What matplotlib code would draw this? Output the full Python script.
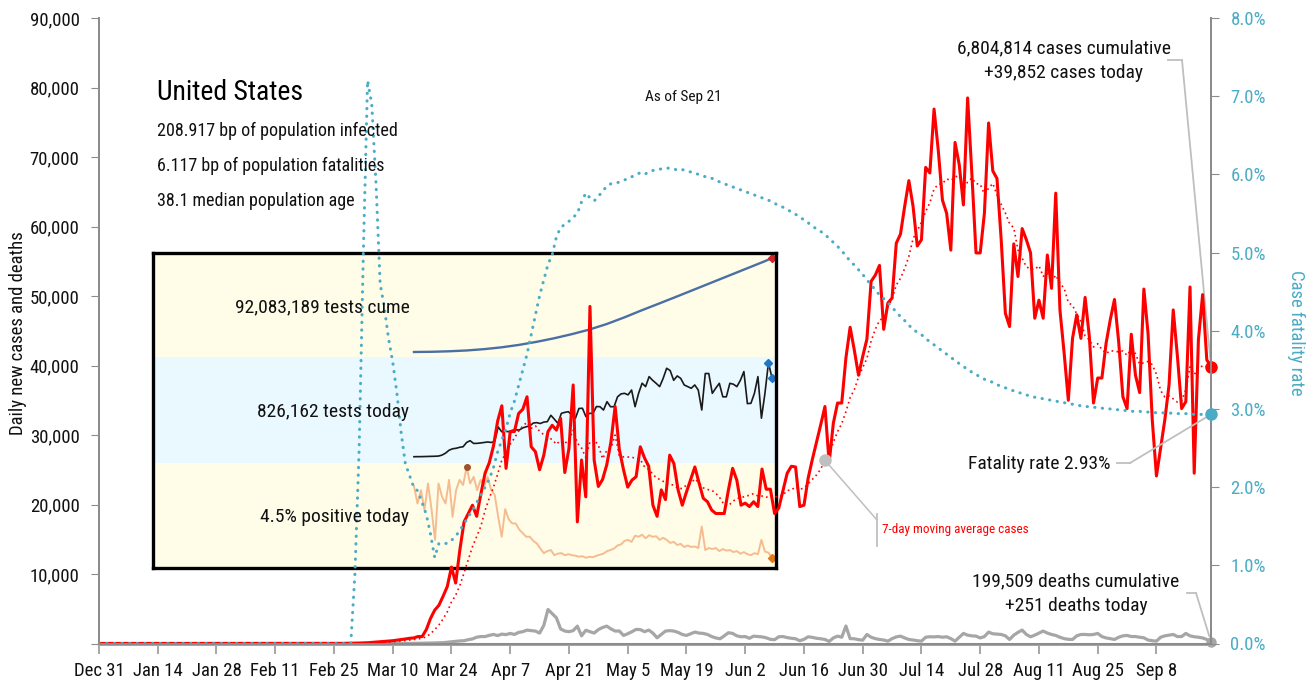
"""
US daily cases / deaths / case fatality rate, with a testing inset box.
Saves out.png (1313 x 681).
"""
import pandas as pd
import matplotlib
matplotlib.use('Agg')
import matplotlib.pyplot as plt
from matplotlib import font_manager as fm
from matplotlib.lines import Line2D
from matplotlib.ticker import FuncFormatter


def pick_font():
    """Prefer a narrow / condensed face, the reference uses one."""
    names = {f.name for f in fm.fontManager.ttflist}
    for p in ['Liberation Sans Narrow', 'Roboto Condensed', 'Noto Sans Condensed',
              'Open Sans Condensed', 'DejaVu Sans Condensed', 'Arial Narrow']:
        if p in names:
            return p, 'normal', True
    for f in fm.fontManager.ttflist:
        if f.stretch in ('condensed', 'semi-condensed', 'extra-condensed') \
                and f.style == 'normal' and f.weight in (400, 'normal', 'regular'):
            return f.name, f.stretch, True
    return 'Roboto', 'normal', False


FONT, STRETCH, NARROW = pick_font()
plt.rcParams['font.family'] = [FONT, 'DejaVu Sans']
plt.rcParams['font.stretch'] = STRETCH
K = 1.0 if NARROW else 0.86      # shrink text when no narrow face exists

# ---- Data --------------------------------------------------------------
START = '2019-12-31'

# daily new cases, Dec 31 .. Sep 21
cases = [
    0, 0, 0, 0, 0, 0, 0, 0, 0, 0,
    0, 0, 0, 0, 0, 0, 0, 0, 0, 0,
    0, 0, 0, 0, 0, 0, 0, 0, 0, 0,
    0, 0, 0, 0, 0, 0, 0, 0, 0, 0,
    0, 0, 0, 0, 0, 0, 0, 0, 0, 0,
    0, 0, 0, 2, 3, 5, 4, 8, 10, 20,
    30, 40, 60, 80, 110, 160, 200, 250, 300, 350,
    400, 480, 550, 650, 750, 800, 1000, 1000, 2000, 3600,
    4800, 5500, 6800, 8200, 11000, 8700, 13500, 17500, 18700, 19900,
    18300, 21500, 24500, 26000, 28400, 32000, 34200, 25200, 30500, 30500,
    33100, 33700, 35500, 28300, 27600, 25000, 27100, 30500, 31400, 30700,
    32400, 24600, 28100, 37200, 17500, 26400, 21100, 48500, 26400, 22600,
    23600, 25700, 29000, 34100, 27900, 25000, 22500, 23500, 24000, 28300,
    26700, 25500, 19900, 18300, 22100, 20700, 27100, 25900, 22100, 19900,
    21800, 23600, 25400, 23100, 20900, 20400, 19200, 18700, 18700, 18700,
    22100, 25200, 23500, 19900, 20200, 19700, 20400, 19700, 25100, 22200,
    22200, 18700, 19500, 22000, 24500, 25500, 25400, 19700, 19900, 23800,
    26500, 29000, 31500, 34100, 26000, 31700, 34600, 34600, 41100, 45500,
    42200, 38600, 41300, 43800, 52100, 53000, 54400, 45200, 49000, 49700,
    57600, 58900, 62900, 66600, 62900, 57200, 58100, 68500, 67700, 76900,
    71000, 63800, 61900, 56600, 72100, 68900, 63100, 78500, 67700, 56200,
    56200, 61900, 74900, 68000, 66900, 58100, 47500, 45600, 57500, 52800,
    59700, 58100, 56200, 46800, 49400, 46800, 55900, 51100, 64800, 48000,
    41800, 35000, 43900, 47300, 43900, 49800, 44200, 34600, 38200, 38200,
    43200, 46600, 49500, 43400, 35500, 33800, 44500, 38600, 36100, 51000,
    44600, 32200, 24100, 28100, 32200, 37200, 48000, 41300, 33800, 34800,
    51300, 24500, 43700, 50200, 40800, 39852,
]

deaths = [
    0, 0, 0, 0, 0, 0, 0, 0, 0, 0,
    0, 0, 0, 0, 0, 0, 0, 0, 0, 0,
    0, 0, 0, 0, 0, 0, 0, 0, 0, 0,
    0, 0, 0, 0, 0, 0, 0, 0, 0, 0,
    0, 0, 0, 0, 0, 0, 0, 0, 0, 0,
    0, 0, 0, 0, 0, 0, 0, 0, 0, 0,
    1, 1, 2, 5, 3, 4, 3, 4, 6, 8,
    5, 7, 10, 12, 10, 20, 25, 30, 45, 60,
    80, 110, 120, 180, 240, 300, 370, 400, 550, 660,
    910, 1000, 1000, 1170, 1300, 1140, 1350, 1280, 1450, 1300,
    1600, 1700, 1930, 1850, 1790, 1500, 2600, 4900, 4300, 3700,
    2100, 1790, 1700, 1850, 2500, 1100, 1900, 1700, 1500, 2000,
    2300, 2500, 2100, 1790, 1800, 1160, 1400, 1700, 2030, 2000,
    1700, 1930, 1500, 820, 1300, 1790, 1850, 1790, 1600, 1300,
    1160, 1400, 1640, 1500, 1450, 1300, 1000, 800, 680, 1100,
    1550, 1450, 1100, 970, 1000, 750, 1060, 1000, 950, 820,
    600, 550, 970, 1000, 850, 750, 680, 400, 600, 970,
    880, 750, 680, 580, 300, 800, 1060, 900, 2510, 700,
    680, 550, 480, 1300, 900, 700, 580, 500, 340, 700,
    950, 1060, 800, 580, 500, 400, 340, 900, 970, 950,
    1000, 900, 970, 700, 340, 900, 1450, 1200, 1100, 1060,
    800, 1000, 1640, 1400, 1350, 1300, 1100, 580, 1200, 1600,
    1930, 1300, 970, 1200, 1500, 1790, 1500, 1300, 1160, 900,
    700, 600, 580, 1100, 1300, 1300, 1250, 1300, 1450, 1000,
    800, 700, 580, 900, 1100, 1160, 1000, 1000, 900, 820,
    500, 400, 340, 900, 1100, 1200, 1300, 1000, 1000, 1450,
    1100, 970, 900, 800, 580, 251,
]

# case fatality rate (%), right axis
cfr_pct = [
    0, 0, 0, 0, 0, 0, 0, 0, 0, 0,
    0, 0, 0, 0, 0, 0, 0, 0, 0, 0,
    0, 0, 0, 0, 0, 0, 0, 0, 0, 0,
    0, 0, 0, 0, 0, 0, 0, 0, 0, 0,
    0, 0, 0, 0, 0, 0, 0, 0, 0, 0,
    0, 0, 0, 0, 0, 0, 0, 0, 0, 0,
    0.0, 0.9, 2.5, 5.0, 7.2, 6.9, 5.9, 4.6, 4.3, 3.9,
    3.6, 3.2, 2.7, 2.3, 2.15, 2.0, 1.95, 1.8, 1.65, 1.4,
    1.1, 1.28, 1.28, 1.28, 1.32, 1.37, 1.45, 1.53, 1.62, 1.7,
    1.8, 1.9, 2.0, 2.1, 2.25, 2.45, 2.6, 2.75, 2.95, 3.1,
    3.3, 3.5, 3.7, 3.95, 4.2, 4.45, 4.65, 4.85, 4.97, 5.2,
    5.32, 5.36, 5.4, 5.45, 5.5, 5.65, 5.76, 5.7, 5.66, 5.72,
    5.78, 5.85, 5.88, 5.89, 5.9, 5.92, 5.95, 5.97, 6.0, 6.02,
    6.0, 6.03, 6.05, 6.06, 6.07, 6.08, 6.08, 6.07, 6.05, 6.06,
    6.05, 6.03, 6.01, 6.0, 5.98, 5.96, 5.95, 5.93, 5.9, 5.88,
    5.86, 5.84, 5.82, 5.8, 5.78, 5.76, 5.74, 5.72, 5.7, 5.68,
    5.66, 5.63, 5.6, 5.58, 5.55, 5.52, 5.49, 5.45, 5.42, 5.38,
    5.34, 5.3, 5.27, 5.23, 5.18, 5.13, 5.08, 5.02, 4.96, 4.89,
    4.84, 4.78, 4.72, 4.65, 4.59, 4.52, 4.46, 4.41, 4.36, 4.3,
    4.24, 4.18, 4.13, 4.07, 4.02, 3.98, 3.95, 3.9, 3.86, 3.82,
    3.78, 3.74, 3.7, 3.66, 3.62, 3.58, 3.54, 3.51, 3.47, 3.44,
    3.41, 3.38, 3.36, 3.34, 3.31, 3.29, 3.27, 3.25, 3.23, 3.21,
    3.2, 3.18, 3.16, 3.15, 3.14, 3.13, 3.12, 3.11, 3.1, 3.09,
    3.08, 3.07, 3.06, 3.05, 3.04, 3.03, 3.03, 3.02, 3.02, 3.01,
    3.0, 3.0, 2.99, 2.99, 2.98, 2.98, 2.97, 2.97, 2.97, 2.96,
    2.96, 2.96, 2.95, 2.95, 2.95, 2.95, 2.94, 2.94, 2.94, 2.94,
    2.94, 2.93, 2.93, 2.93, 2.93, 2.93,
]

# inset: testing, days since Mar 1
tests_cume_day = [0, 10, 20, 30, 40, 50, 60, 70, 80, 90, 100,
                  110, 120, 130, 140, 150, 160, 170, 180, 190, 200, 204]
tests_cume_m = [0.0, 0.2, 0.7, 1.5, 2.8, 4.6, 7.0, 10.0, 13.5, 17.5, 22.0,
                27.5, 34.0, 41.0, 47.7, 54.5, 61.4, 68.3, 75.2, 82.1, 89.0, 92.08]

tests_day = list(range(0, 205, 2))
tests_daily_k = [
    13, 14, 14, 15, 16, 17, 18, 20, 30, 50,
    80, 95, 100, 110, 116, 160, 178, 150, 151, 155,
    160, 165, 160, 170, 320, 270, 275, 271, 285, 290,
    288, 310, 322, 330, 360, 364, 355, 370, 374, 440,
    400, 357, 460, 470, 477, 440, 409, 510, 512, 426,
    460, 460, 530, 528, 494, 580, 528, 528, 630, 660,
    666, 650, 700, 528, 666, 770, 735, 838, 800, 769,
    735, 820, 924, 900, 800, 845, 820, 752, 735, 718,
    752, 700, 494, 870, 870, 666, 720, 769, 630, 630,
    769, 760, 735, 800, 890, 560, 563, 666, 838, 410,
    666, 981, 826,
]
positive_pct = [
    18.5, 15.1, 17.7, 13.8, 19.0, 14.0, 8.0, 19.0, 16.4, 15.1,
    19.7, 12.5, 17.7, 19.7, 18.7, 22.2, 19.0, 20.3, 17.7, 19.7,
    18.5, 20.3, 17.7, 16.8, 12.5, 8.6, 14.0, 12.0, 11.2, 11.2,
    10.0, 9.3, 8.6, 8.6, 7.8, 7.3, 6.3, 5.4, 5.8, 6.0,
    5.0, 5.3, 5.4, 5.0, 5.2, 5.0, 4.9, 4.7, 4.8, 4.5,
    4.7, 4.6, 4.9, 5.1, 5.3, 5.8, 6.0, 6.3, 6.9, 7.1,
    7.8, 8.0, 7.6, 8.8, 8.6, 9.0, 8.3, 8.9, 8.6, 8.7,
    8.0, 8.4, 8.0, 7.4, 7.6, 7.0, 7.2, 6.6, 6.9, 6.6,
    6.7, 6.4, 10.6, 6.0, 6.4, 6.2, 6.4, 5.8, 6.2, 5.9,
    6.0, 5.6, 5.8, 5.3, 5.6, 5.2, 5.0, 5.4, 5.2, 8.0,
    5.7, 5.5, 4.5,
]

# ---- Style -------------------------------------------------------------
W, H = 1313, 681
RED = '#ff0000'
TEAL = '#4bacc6'
GREY = '#a6a6a6'
AXIS = '#8c8c8c'
LEADER = '#bfbfbf'
TXT = '#111111'
YELLOW = '#fffde8'
ICE = '#eaf8ff'


def px_rect(x0, y0, x1, y1):
    """pixel box (top-left origin) -> figure fraction rect."""
    return [x0 / W, 1 - y1 / H, (x1 - x0) / W, (y1 - y0) / H]


def fx(x):
    return x / W


def fy(y):
    return 1 - y / H


dates = pd.date_range(START, periods=len(cases))
cases_s = pd.Series(cases, index=dates)
ma7 = cases_s.rolling(7, min_periods=1).mean()

fig = plt.figure(figsize=(W / 100, H / 100), dpi=100)

# ---- Inset (drawn underneath the main lines) ---------------------------
INSET_X = (-148.7, 206.3)
bands = [
    (253, 357, YELLOW, (-4.9, 97.0)),
    (357, 463, ICE, (-51.5, 1040)),
    (463, 568, YELLOW, (2.5, 23.0)),
]
band_axes = []
for y0, y1, color, ylim in bands:
    b = fig.add_axes(px_rect(153, y0, 776, y1))
    b.set_facecolor(color)
    b.set_xlim(*INSET_X)
    b.set_ylim(*ylim)
    b.set_xticks([]); b.set_yticks([])
    for s in b.spines.values():
        s.set_visible(False)
    b.set_zorder(0)
    band_axes.append(b)
ax_cum, ax_daily, ax_pos = band_axes

ax_cum.plot(tests_cume_day, tests_cume_m, color='#4a6fa5', lw=1.7)
ax_cum.plot(tests_cume_day[-1], tests_cume_m[-1], 'D', color='#d62728', ms=4)

ax_daily.plot(tests_day, tests_daily_k, color='#1a1a1a', lw=1.2)
ax_daily.plot(tests_day[-2:], tests_daily_k[-2:], 'D', color='#1f77c4', ms=4, ls='none')

ax_pos.plot(tests_day, positive_pct, color='#f4b183', lw=1.4, alpha=0.85)
peak = positive_pct.index(max(positive_pct))
ax_pos.plot(tests_day[peak], positive_pct[peak], 'o', color='#a0522d', ms=4)
ax_pos.plot(tests_day[-1], positive_pct[-1], 'D', color='#e07b1a', ms=4)

inset_txt = dict(ha='right', va='center', fontsize=14 * K, color=TXT)
fig.text(fx(410), fy(307), '92,083,189 tests cume', **inset_txt)
fig.text(fx(409), fy(412), '826,162 tests today', **inset_txt)
fig.text(fx(409), fy(517), f'{positive_pct[-1]}% positive today', **inset_txt)

frame = fig.add_axes(px_rect(153, 253, 776, 568))
frame.patch.set_visible(False)
frame.set_xticks([]); frame.set_yticks([])
for s in frame.spines.values():
    s.set_color('black')
    s.set_linewidth(2.4)
frame.set_zorder(1)

# ---- Main chart --------------------------------------------------------
ax = fig.add_axes(px_rect(99, 18, 1211, 643.5))
ax.set_zorder(2)
ax.patch.set_visible(False)
ax2 = ax.twinx()
ax2.set_zorder(3)
ax2.patch.set_visible(False)

ax.plot(dates, deaths, color=GREY, lw=2.3, zorder=2)
ax.plot(dates, ma7, color=RED, lw=1.2, ls=(0, (1, 2)), zorder=3)
ax.plot(dates, cases, color=RED, lw=2.2, zorder=4)
ax2.plot(dates, cfr_pct, color=TEAL, lw=2.2, ls=(0, (0.1, 2.4)),
         dash_capstyle='round', zorder=2)

ax.set_xlim(dates[0], dates[-1])
ax.set_ylim(0, 90000)
ax2.set_ylim(0, 8)

ax.set_yticks(range(0, 90001, 10000))
ax.yaxis.set_major_formatter(FuncFormatter(lambda v, _: '' if v == 0 else f'{v:,.0f}'))
ax2.set_yticks(range(9))
ax2.yaxis.set_major_formatter(FuncFormatter(lambda v, _: f'{v:.1f}%'))

xt = pd.date_range(START, dates[-1], freq='14D')
ax.set_xticks(xt)
ax.set_xticklabels([f'{d:%b} {d.day}' for d in xt])

for a in (ax, ax2):
    a.spines['top'].set_visible(False)
    for s in ('left', 'right', 'bottom'):
        a.spines[s].set_color(AXIS)
        a.spines[s].set_linewidth(1.4)
ax.spines['bottom'].set_color(GREY)
ax.spines['bottom'].set_linewidth(2.2)

TICK = 13.5 * K
ax.tick_params(axis='y', length=6, color=AXIS, labelsize=TICK, labelcolor=TXT, pad=8)
ax.tick_params(axis='x', length=7, color=GREY, width=1.4, labelsize=TICK,
               labelcolor=TXT, pad=6)
ax2.tick_params(axis='y', length=6, color=AXIS, labelsize=TICK, labelcolor=TEAL, pad=8)

fig.text(fx(18), fy(333), 'Daily new cases and deaths', rotation=90,
         ha='center', va='center', fontsize=13.5 * K, color=TXT)
fig.text(fx(1296), fy(333), 'Case fatality rate', rotation=270,
         ha='center', va='center', fontsize=13.5 * K, color=TEAL)

# ---- Header text -------------------------------------------------------
fig.text(fx(157), fy(92), 'United States', fontsize=20 * K, color='black', va='center')
for y, line in [(131, '208.917 bp of population infected'),
                (166, '6.117 bp of population fatalities'),
                (201, '38.1 median population age')]:
    fig.text(fx(157), fy(y), line, fontsize=13 * K, color=TXT, va='center')
fig.text(fx(683), fy(97), 'As of Sep 21', fontsize=11 * K, color=TXT,
         ha='center', va='center')

# ---- End-point markers and call-outs -----------------------------------
last = dates[-1]
ax.plot(last, cases[-1], 'o', color=RED, ms=8, zorder=6, clip_on=False)
ax.plot(last, deaths[-1], 'o', color=GREY, ms=6.5, zorder=6, clip_on=False)
ax2.plot(last, cfr_pct[-1], 'o', color=TEAL, ms=8, zorder=6, clip_on=False)


def leader(x0, x1, y, target, on_ax):
    fig.add_artist(Line2D([fx(x0), fx(x1)], [fy(y), fy(y)],
                          transform=fig.transFigure, color=LEADER, lw=1.3))
    on_ax.annotate('', xy=target, xytext=(fx(x1), fy(y)),
                   textcoords='figure fraction',
                   arrowprops=dict(arrowstyle='-', color=LEADER, lw=1.3,
                                   shrinkA=0, shrinkB=4))


CALL = 14 * K
fig.text(fx(1064), fy(61), f'6,804,814 cases cumulative\n+{cases[-1]:,} cases today',
         ha='center', va='center', fontsize=CALL, color=TXT, linespacing=1.45)
leader(1168, 1182, 60, (last, cases[-1]), ax)

fig.text(fx(1111), fy(464), f'Fatality rate {cfr_pct[-1]:.2f}%',
         ha='right', va='center', fontsize=CALL, color=TXT)
leader(1117, 1130, 463, (last, cfr_pct[-1]), ax2)

fig.text(fx(1076), fy(594), f'199,509 deaths cumulative\n+{deaths[-1]:,} deaths today',
         ha='center', va='center', fontsize=CALL, color=TXT, linespacing=1.45)
leader(1187, 1196, 593, (last, deaths[-1]), ax)

# 7-day average call-out
ma_day = dates[173]
ax.plot(ma_day, ma7[ma_day], 'o', color='#bfbfbf', ms=8, zorder=5)
ax.annotate('', xy=(ma_day, ma7[ma_day]), xytext=(fx(877), fy(520)),
            textcoords='figure fraction',
            arrowprops=dict(arrowstyle='-', color=LEADER, lw=1.1, shrinkA=0, shrinkB=0))
fig.add_artist(Line2D([fx(877), fx(877)], [fy(514), fy(546)],
                      transform=fig.transFigure, color=LEADER, lw=1.3))
fig.text(fx(882), fy(529), '7-day moving average cases', fontsize=9.5 * K,
         color=RED, va='center')

fig.savefig('out.png', dpi=100)
